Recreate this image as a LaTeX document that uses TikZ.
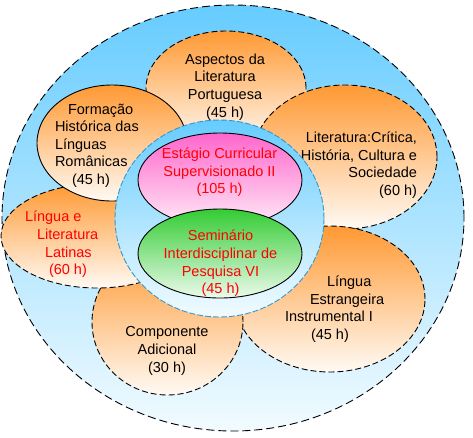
\documentclass[tikz,border=0pt]{standalone}
\usepackage{fontspec}
\setmainfont{Liberation Sans}
\usetikzlibrary{shapes.geometric}
\definecolor{skyA}{RGB}{102,204,255}
\definecolor{skyB}{RGB}{242,251,255}
\definecolor{orA}{RGB}{255,153,51}
\definecolor{orB}{RGB}{255,250,244}
\definecolor{pkA}{RGB}{255,102,204}
\definecolor{pkB}{RGB}{255,236,248}
\definecolor{grA}{RGB}{51,204,51}
\definecolor{grB}{RGB}{236,250,236}
\definecolor{rimblue}{RGB}{51,153,204}
\definecolor{txtred}{RGB}{255,0,0}
\begin{document}
\begin{tikzpicture}[x=1pt,y=-1pt,
  blob/.style={ellipse, inner sep=0pt, outer sep=0pt, line width=0.9pt, draw=black},
  orangeblob/.style={blob, top color=orA, bottom color=orB},
  skyblob/.style={blob, top color=skyA, bottom color=skyB},
  dashline/.style={dash pattern=on 6pt off 3pt},
  lbl/.style={inner sep=0pt, outer sep=0pt, font=\fontsize{14.5}{17.6}\selectfont, text=black},
  redlbl/.style={lbl, text=txtred}]
\useasboundingbox (0,0) rectangle (473,437);

% outer ellipse
\node[skyblob, dash pattern=on 8pt off 4pt, minimum width=462pt, minimum height=426pt] (outer) at (233,218) {};

% Aspectos
\node[orangeblob, dashline, minimum width=160pt, minimum height=114pt] (asp) at (226,88) {};
\node[lbl, align=center] (asptxt) at (225,87) {Aspectos da\\Literatura\\Portuguesa\\(45 h)};

% Literatura
\node[orangeblob, dashline, minimum width=184pt, minimum height=144pt] (lit) at (345,157) {};
\node[lbl, align=right, anchor=east] (littxt) at (417,165) {Literatura:Crítica,\\História, Cultura e\\Sociedade\\(60 h)};

% Lingua Estrangeira
\node[orangeblob, dashline, minimum width=190pt, minimum height=146pt] (le) at (330,299) {};
\node[lbl, align=left, anchor=west] (letxt) at (285,309) {\hspace*{42pt}Língua\\\hspace*{25pt}Estrangeira\\Instrumental I\\\hspace*{26pt}(45 h)};

% Componente
\node[orangeblob, dashline, minimum width=151pt, minimum height=146pt] (comp) at (167.5,322) {};
\node[lbl, align=center] (comptxt) at (167,351) {Componente\\Adicional\\(30 h)};

% Lingua e Literatura Latinas
\node[orangeblob, dashline, minimum width=192pt, minimum height=104pt] (lat) at (97,236) {};
\node[redlbl, align=left, anchor=west] (lattxt) at (25,244.5) {Língua e\\\hspace*{12pt}Literatura\\\hspace*{20pt}Latinas\\\hspace*{24pt}(60 h)};

% Formacao
\node[orangeblob, minimum width=150pt, minimum height=116pt] (form) at (112,143) {};
\node[lbl, align=left, anchor=west] (formtxt) at (55,145.5) {\hspace*{13pt}Formação\\Histórica das\\Línguas\\Românicas\\\hspace*{17pt}(45 h)};

% central circle
\node[skyblob, draw=rimblue, dash pattern=on 6pt off 2pt, minimum width=209pt, minimum height=197pt] (core) at (219.5,218.5) {};

% pink
\node[blob, top color=pkA, bottom color=pkB, minimum width=164pt, minimum height=94pt] (pink) at (220,180) {};
\node[redlbl, align=center] (pinktxt) at (219.5,172.5) {Estágio Curricular\\Supervisionado II\\(105 h)};

% green
\node[blob, top color=grA, bottom color=grB, minimum width=164pt, minimum height=89pt] (green) at (220,253.5) {};
\node[redlbl, align=center] (greentxt) at (220.5,263.5) {Seminário\\Interdisciplinar de\\Pesquisa VI\\(45 h)};
\end{tikzpicture}
\end{document}
